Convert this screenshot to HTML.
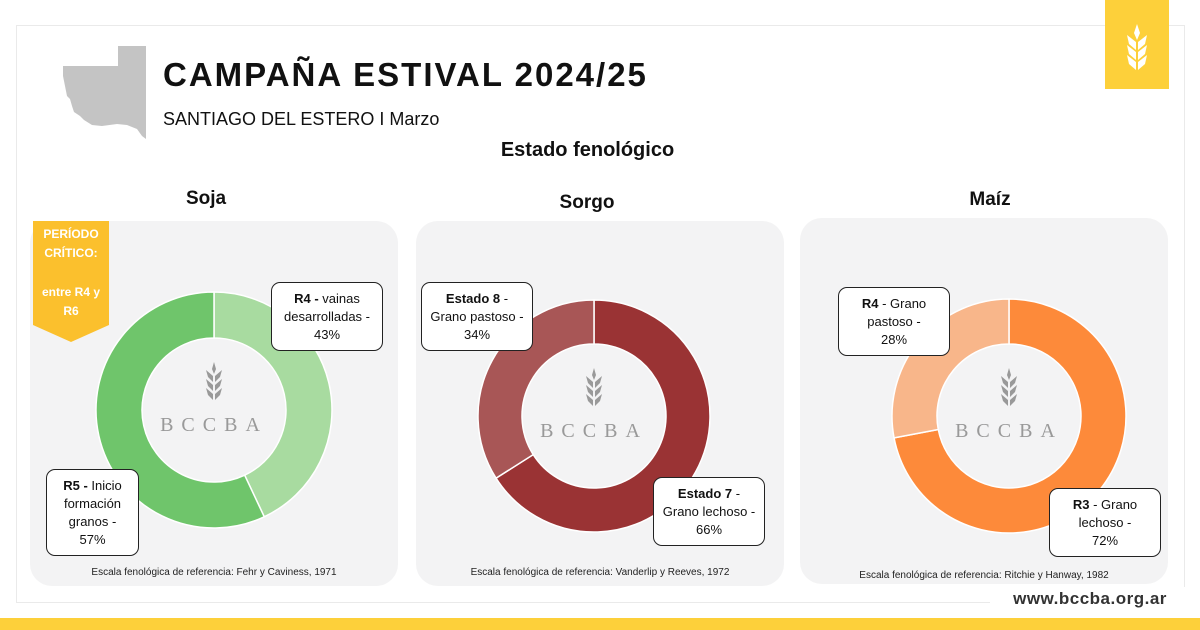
<!DOCTYPE html>
<html><head><meta charset="utf-8"><style>
body{margin:0;width:1200px;height:630px;background:#fff;position:relative;overflow:hidden;font-family:"Liberation Sans",sans-serif;color:#111}
.abs{position:absolute}
.panel{position:absolute;background:#f3f3f4;border-radius:22px}
.lbl{position:absolute;background:#fff;border:1.5px solid #222;border-radius:9px;font-size:13px;text-align:center;line-height:18px;display:flex;align-items:center;justify-content:center;box-sizing:border-box;padding:0 12px}
.ttl{position:absolute;font-weight:bold;font-size:19px;text-align:center;width:200px}
.foot{position:absolute;font-size:10px;text-align:center;width:368px;color:#222}
</style></head><body>
<div class="abs" style="left:16px;top:25px;width:1167px;height:576px;border:1px solid #eaeaea"></div>
<svg class="abs" style="left:62px;top:44px" width="86" height="96"><path d="M1 22 L56 22 L56 2 L84 2 L84 95 L80 92 L75 85 L65 81 L55 80 L40 82 L30 81 L22 76 L18 72 L12 68 L10 62 L8 55 L5 52 L3 42 L1 32 Z" fill="#c4c4c4"/></svg>
<div class="abs" style="left:163px;top:56px;font-size:33px;font-weight:bold;letter-spacing:2px">CAMPAÑA ESTIVAL 2024/25</div>
<div class="abs" style="left:163px;top:109px;font-size:18px">SANTIAGO DEL ESTERO I Marzo</div>
<div class="abs" style="left:0;width:1175px;top:139px;text-align:center;font-size:20px;font-weight:bold">Estado fenológico</div>
<div class="abs" style="left:1105px;top:0;width:64px;height:89px;background:#fdd03a">
<svg width="64" height="89"><g fill="#fff"><path d="M32 24 L35 33 L32 40 L29 33Z"/><path d="M33 42 L42 35 L40 44 L33 50Z"/><path d="M31 42 L22 35 L24 44 L31 50Z"/><path d="M33 52 L42 45 L40 54 L33 60Z"/><path d="M31 52 L22 45 L24 54 L31 60Z"/><path d="M33 62 L42 55 L40 64 L33 70Z"/><path d="M31 62 L22 55 L24 64 L31 70Z"/></g></svg></div>
<div class="abs" style="left:0;top:618px;width:1200px;height:12px;background:#fdd03a"></div>
<div class="abs" style="left:990px;top:587px;width:200px;height:24px;background:#fff;font-size:17px;font-weight:bold;color:#333;text-align:center;line-height:24px;letter-spacing:0.5px">www.bccba.org.ar</div>

<div class="panel" style="left:30px;top:221px;width:368px;height:365px"></div>
<div class="panel" style="left:416px;top:221px;width:368px;height:365px"></div>
<div class="panel" style="left:800px;top:218px;width:368px;height:366px"></div>
<div class="ttl" style="left:106px;top:188px">Soja</div>
<div class="ttl" style="left:487px;top:192px">Sorgo</div>
<div class="ttl" style="left:890px;top:189px">Maíz</div>

<svg class="abs" style="left:33px;top:221px" width="76" height="122"><path d="M0 0H76V104L38 121L0 104Z" fill="#fbc02d"/>
<g fill="#fff" font-weight="bold" font-size="12" text-anchor="middle" font-family="Liberation Sans"><text x="38" y="17">PERÍODO</text><text x="38" y="36">CRÍTICO:</text><text x="38" y="75">entre R4 y</text><text x="38" y="94">R6</text></g></svg>

<svg id="charts" class="abs" style="left:0;top:0" width="1200" height="630"></svg>

<div class="lbl" style="left:271px;top:282px;width:112px;height:69px"><div><b>R4 -</b> vainas desarrolladas - 43%</div></div>
<div class="lbl" style="left:46px;top:469px;width:93px;height:87px"><div><b>R5 -</b> Inicio formación granos - 57%</div></div>
<div class="lbl" style="left:421px;top:282px;width:112px;height:69px;padding:0 4px"><div><b>Estado 8</b> -<br>Grano pastoso -<br>34%</div></div>
<div class="lbl" style="left:653px;top:477px;width:112px;height:69px;padding:0 4px"><div><b>Estado 7</b> -<br>Grano lechoso -<br>66%</div></div>
<div class="lbl" style="left:838px;top:287px;width:112px;height:69px;padding:0 20px"><div><b>R4</b> - Grano pastoso - 28%</div></div>
<div class="lbl" style="left:1049px;top:488px;width:112px;height:69px;padding:0 20px"><div><b>R3</b> - Grano lechoso - 72%</div></div>

<div class="foot" style="left:30px;top:567px">Escala fenológica de referencia: Fehr y Caviness, 1971</div>
<div class="foot" style="left:416px;top:567px">Escala fenológica de referencia: Vanderlip y Reeves, 1972</div>
<div class="foot" style="left:800px;top:570px">Escala fenológica de referencia: Ritchie y Hanway, 1982</div>

<script>
const crops = ["soja","sorgo","maiz"];
const stages = [["R4","R5"],["Estado 7","Estado 8"],["R3","R4"]];
const values = [[43,57],[66,34],[72,28]];
const colors = [["#a8dba0","#6fc56b"],["#9a3334","#a85656"],["#fd8a3a","#f8b68a"]];
const centers = [[214,410,118,72],[594,416,116,72],[1009,416,117,72]];
const svg = document.getElementById('charts');
const NS = "http://www.w3.org/2000/svg";
function pt(cx,cy,r,f){const a=f*2*Math.PI-Math.PI/2;return [cx+r*Math.cos(a),cy+r*Math.sin(a)];}
crops.forEach((c,i)=>{
  const [cx,cy,R,r]=centers[i];const tot=values[i].reduce((a,b)=>a+b,0);let acc=0;
  values[i].forEach((v,j)=>{
    const f0=acc/tot,f1=(acc+v)/tot;acc+=v;
    const la=(f1-f0)>0.5?1:0;
    const [x0,y0]=pt(cx,cy,R,f0),[x1,y1]=pt(cx,cy,R,f1),[x2,y2]=pt(cx,cy,r,f1),[x3,y3]=pt(cx,cy,r,f0);
    const p=document.createElementNS(NS,'path');
    p.setAttribute('d',`M${x0} ${y0}A${R} ${R} 0 ${la} 1 ${x1} ${y1}L${x2} ${y2}A${r} ${r} 0 ${la} 0 ${x3} ${y3}Z`);
    p.setAttribute('fill',colors[i][j]);p.setAttribute('stroke','#fff');p.setAttribute('stroke-width','1.5');
    
    
    svg.appendChild(p);
  });
  const g=document.createElementNS(NS,'g');
  
  
  g.innerHTML=`<g fill="#999" transform="translate(${cx},${cy-30})"><path d="M0 -18 L2 -11 L0 -6 L-2 -11Z"/><path d="M1 -4 L8 -10 L6 -3 L1 2Z"/><path d="M-1 -4 L-8 -10 L-6 -3 L-1 2Z"/><path d="M1 5 L8 -1 L6 6 L1 11Z"/><path d="M-1 5 L-8 -1 L-6 6 L-1 11Z"/><path d="M1 14 L8 8 L6 15 L1 20Z"/><path d="M-1 14 L-8 8 L-6 15 L-1 20Z"/></g><text x="${cx}" y="${cy+21}" text-anchor="middle" font-family="Liberation Serif" font-size="20" fill="#999" letter-spacing="8">BCCBA</text>`;
  svg.appendChild(g);
});
</script>
</body></html>
